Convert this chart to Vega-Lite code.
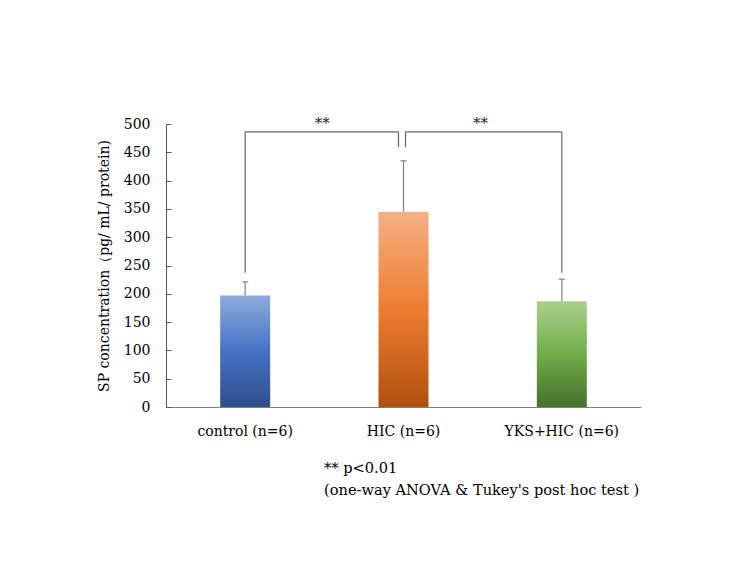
{
  "$schema": "https://vega.github.io/schema/vega-lite/v6.json",
  "width": 475,
  "height": 283,
  "padding": {"left": 97, "top": 115, "right": 5, "bottom": 5},
  "background": "white",
  "config": {
    "view": {"stroke": null},
    "font": "DejaVu Serif",
    "axisY": {
      "grid": false, "titleFontSize": 14, "titleFontWeight": "normal", "titleColor": "#000000", "titlePadding": 12,
      "labelFontSize": 14, "labelColor": "#000000", "labelPadding": 21, "labelOverlap": false,
      "tickSize": -5, "tickColor": "#595959", "domainColor": "#595959"
    },
    "axisX": {"ticks": false, "labelAngle": 0, "labelFontSize": 14, "labelColor": "#000000", "labelPadding": 17, "domainColor": "#808080", "grid": false}
  },
  "datasets": {
    "stats": [
      {"group": "control (n=6)", "mean": 197, "upper": 221},
      {"group": "HIC (n=6)", "mean": 345, "upper": 435},
      {"group": "YKS+HIC (n=6)", "mean": 187, "upper": 226}
    ],
    "brackets": [
      {"side": "left", "a": "control (n=6)", "b": "HIC (n=6)", "top": 486, "aEnd": 237, "bEnd": 459, "label": "**"},
      {"side": "right", "a": "HIC (n=6)", "b": "YKS+HIC (n=6)", "top": 486, "aEnd": 459, "bEnd": 237, "label": "**"}
    ]
  },
  "title": {
    "text": "** p<0.01",
    "subtitle": "(one-way ANOVA & Tukey's post hoc test )",
    "orient": "bottom",
    "anchor": "start",
    "frame": "group",
    "dx": 158,
    "offset": 23,
    "font": "DejaVu Serif",
    "fontSize": 14.6,
    "fontWeight": "normal",
    "color": "#000000",
    "subtitleFont": "DejaVu Serif",
    "subtitleFontSize": 14.6,
    "subtitleColor": "#000000",
    "subtitlePadding": 7
  },
  "layer": [
    {
      "data": {"name": "stats"},
      "transform": [{"filter": "datum.group === 'control (n=6)'"}],
      "mark": {
        "type": "bar",
        "width": 50,
        "color": {"gradient": "linear", "x1": 0, "y1": 0, "x2": 0, "y2": 1,
          "stops": [{"offset": 0, "color": "#8FAADC"}, {"offset": 0.5, "color": "#4472C4"}, {"offset": 1, "color": "#2F4F8C"}]}
      },
      "encoding": {
        "x": {
          "field": "group", "type": "nominal", "title": null,
          "scale": {"domain": ["control (n=6)", "HIC (n=6)", "YKS+HIC (n=6)"], "paddingInner": 0, "paddingOuter": 0}
        },
        "y": {
          "field": "mean", "type": "quantitative",
          "scale": {"domain": [0, 500], "nice": false},
          "axis": {"values": [0, 50, 100, 150, 200, 250, 300, 350, 400, 450, 500], "title": "SP concentration（pg/ mL/ protein)"}
        }
      }
    },
    {
      "data": {"name": "stats"},
      "transform": [{"filter": "datum.group === 'HIC (n=6)'"}],
      "mark": {
        "type": "bar",
        "width": 50,
        "color": {"gradient": "linear", "x1": 0, "y1": 0, "x2": 0, "y2": 1,
          "stops": [{"offset": 0, "color": "#F4B183"}, {"offset": 0.5, "color": "#ED7D31"}, {"offset": 1, "color": "#B1500F"}]}
      },
      "encoding": {
        "x": {"field": "group", "type": "nominal", "title": null},
        "y": {"field": "mean", "type": "quantitative", "axis": {"values": [0, 50, 100, 150, 200, 250, 300, 350, 400, 450, 500], "title": "SP concentration（pg/ mL/ protein)"}}
      }
    },
    {
      "data": {"name": "stats"},
      "transform": [{"filter": "datum.group === 'YKS+HIC (n=6)'"}],
      "mark": {
        "type": "bar",
        "width": 50,
        "color": {"gradient": "linear", "x1": 0, "y1": 0, "x2": 0, "y2": 1,
          "stops": [{"offset": 0, "color": "#A9D18E"}, {"offset": 0.5, "color": "#70AD47"}, {"offset": 1, "color": "#46712D"}]}
      },
      "encoding": {
        "x": {"field": "group", "type": "nominal", "title": null},
        "y": {"field": "mean", "type": "quantitative", "axis": {"values": [0, 50, 100, 150, 200, 250, 300, 350, 400, 450, 500], "title": "SP concentration（pg/ mL/ protein)"}}
      }
    },
    {
      "data": {"name": "stats"},
      "mark": {"type": "rule", "color": "#808080", "strokeWidth": 1.2},
      "encoding": {
        "x": {"field": "group", "type": "nominal", "title": null},
        "y": {"field": "mean", "type": "quantitative", "axis": {"values": [0, 50, 100, 150, 200, 250, 300, 350, 400, 450, 500], "title": "SP concentration（pg/ mL/ protein)"}},
        "y2": {"field": "upper"}
      }
    },
    {
      "data": {"name": "stats"},
      "mark": {"type": "rule", "color": "#808080", "strokeWidth": 1.2, "xOffset": -3, "x2Offset": 3},
      "encoding": {
        "x": {"field": "group", "type": "nominal", "title": null},
        "x2": {"field": "group"},
        "y": {"field": "upper", "type": "quantitative", "axis": {"values": [0, 50, 100, 150, 200, 250, 300, 350, 400, 450, 500], "title": "SP concentration（pg/ mL/ protein)"}}
      }
    },
    {
      "data": {"name": "brackets"},
      "transform": [{"filter": "datum.side === 'left'"}],
      "layer": [
        {
          "mark": {"type": "rule", "color": "#666666", "strokeWidth": 1.2, "x2Offset": -5},
          "encoding": {
            "x": {"field": "a", "type": "nominal", "title": null},
            "x2": {"field": "b"},
            "y": {"field": "top", "type": "quantitative", "axis": {"values": [0, 50, 100, 150, 200, 250, 300, 350, 400, 450, 500], "title": "SP concentration（pg/ mL/ protein)"}}
          }
        },
        {
          "mark": {"type": "rule", "color": "#666666", "strokeWidth": 1.2},
          "encoding": {
            "x": {"field": "a", "type": "nominal", "title": null},
            "y": {"field": "top", "type": "quantitative", "axis": {"values": [0, 50, 100, 150, 200, 250, 300, 350, 400, 450, 500], "title": "SP concentration（pg/ mL/ protein)"}},
            "y2": {"field": "aEnd"}
          }
        },
        {
          "mark": {"type": "rule", "color": "#666666", "strokeWidth": 1.2, "xOffset": -5},
          "encoding": {
            "x": {"field": "b", "type": "nominal", "title": null},
            "y": {"field": "top", "type": "quantitative", "axis": {"values": [0, 50, 100, 150, 200, 250, 300, 350, 400, 450, 500], "title": "SP concentration（pg/ mL/ protein)"}},
            "y2": {"field": "bEnd"}
          }
        }
      ]
    },
    {
      "data": {"name": "brackets"},
      "transform": [{"filter": "datum.side === 'right'"}],
      "layer": [
        {
          "mark": {"type": "rule", "color": "#666666", "strokeWidth": 1.2, "xOffset": 2},
          "encoding": {
            "x": {"field": "a", "type": "nominal", "title": null},
            "x2": {"field": "b"},
            "y": {"field": "top", "type": "quantitative", "axis": {"values": [0, 50, 100, 150, 200, 250, 300, 350, 400, 450, 500], "title": "SP concentration（pg/ mL/ protein)"}}
          }
        },
        {
          "mark": {"type": "rule", "color": "#666666", "strokeWidth": 1.2, "xOffset": 2},
          "encoding": {
            "x": {"field": "a", "type": "nominal", "title": null},
            "y": {"field": "top", "type": "quantitative", "axis": {"values": [0, 50, 100, 150, 200, 250, 300, 350, 400, 450, 500], "title": "SP concentration（pg/ mL/ protein)"}},
            "y2": {"field": "aEnd"}
          }
        },
        {
          "mark": {"type": "rule", "color": "#666666", "strokeWidth": 1.2},
          "encoding": {
            "x": {"field": "b", "type": "nominal", "title": null},
            "y": {"field": "top", "type": "quantitative", "axis": {"values": [0, 50, 100, 150, 200, 250, 300, 350, 400, 450, 500], "title": "SP concentration（pg/ mL/ protein)"}},
            "y2": {"field": "bEnd"}
          }
        }
      ]
    },
    {
      "data": {"name": "brackets"},
      "mark": {"type": "text", "font": "DejaVu Serif", "fontSize": 15, "color": "#222222", "baseline": "bottom", "dy": -1, "xOffset": 77},
      "encoding": {
        "x": {"field": "a", "type": "nominal", "title": null},
        "y": {"field": "top", "type": "quantitative", "axis": {"values": [0, 50, 100, 150, 200, 250, 300, 350, 400, 450, 500], "title": "SP concentration（pg/ mL/ protein)"}},
        "text": {"field": "label"}
      }
    }
  ]
}
